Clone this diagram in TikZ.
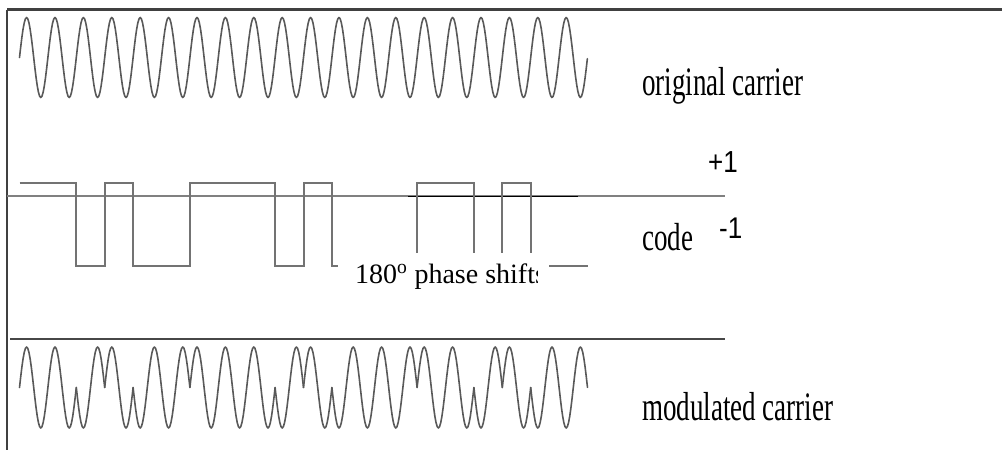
\documentclass[tikz,border=0pt]{standalone}
\usepackage{fontspec}
\setmainfont{Liberation Serif}
\newfontfamily\arialf{Liberation Sans}
\begin{document}
\begin{tikzpicture}[x=1pt,y=-1pt,
  frameline/.style={line width=2.3pt, draw=black!75},
  sepline/.style={line width=2pt, draw=black!72},
  wave/.style={line width=1.6pt, draw=black!65, line join=round, line cap=round},
  codeline/.style={line width=2pt, draw=black!55, line join=miter},
  zeroline/.style={line width=1.3pt, draw=black!50},
  lbl/.style={anchor=base west, inner sep=0pt, font=\fontsize{27}{30}\selectfont},
  lvl/.style={anchor=base west, inner sep=0pt, font=\arialf\fontsize{26}{30}\selectfont},
  note/.style={anchor=base west, inner sep=0pt, font=\fontsize{28}{32}\selectfont}]
\useasboundingbox (0,0) rectangle (1002,450);

% frame
\draw[frameline] (7,9.5) -- (1002,9.5);
\draw[frameline] (7,9.5) -- (7,450);

% original carrier
\draw[wave] plot[domain=0:20, samples=481, variable=\t] ({19.5+28.4*\t},{57.5-40*sin(360*\t)});

% code zero line
\draw[zeroline] (7,196) -- (725,196);
\draw[line width=1.3pt, draw=black] (408,196.5) -- (578,196.5);

% code waveform
\draw[codeline] (19.5,183) -- (76.3,183) -- (76.3,266) -- (104.7,266) -- (104.7,183)
  -- (133.1,183) -- (133.1,266) -- (189.9,266) -- (189.9,183) -- (275.1,183)
  -- (275.1,266) -- (303.5,266) -- (303.5,183) -- (331.9,183) -- (331.9,266)
  -- (417.1,266) -- (417.1,183) -- (473.9,183) -- (473.9,266) -- (502.3,266)
  -- (502.3,183) -- (530.7,183) -- (530.7,266) -- (587.5,266);
\fill[white] (338,253) rectangle (549,300);
\begin{scope}
  \clip (338,240) rectangle (537.5,305);
  \node[note] (shift) at (355,283) {180\textsuperscript{o} phase shifts};
\end{scope}

% separator
\draw[sepline] (10,339) -- (725,339);

% modulated carrier
\foreach \a/\b/\s in {0/2/1, 2/3/-1, 3/4/1, 4/6/-1, 6/9/1, 9/10/-1, 10/11/1, 11/14/-1, 14/16/1, 16/17/-1, 17/18/1, 18/20/-1}{
  \pgfmathtruncatemacro\ns{24*(\b-\a)+1}
  \draw[wave] plot[domain=\a:\b, samples=\ns, variable=\t] ({19.5+28.4*\t},{387.5-40.5*\s*sin(360*\t)});
}

% labels
\node[lbl] (orig) at (642,95) {\scalebox{1}[1.5]{original carrier}};
\node[lbl] (code) at (642,250) {\scalebox{1}[1.45]{code}};
\node[lbl] (mod) at (642,420) {\scalebox{1}[1.5]{modulated carrier}};
\node[lvl] (plus) at (708,172) {\scalebox{1}[1.17]{+1}};
\node[lvl] (minus) at (719,238) {\scalebox{1}[1.15]{-1}};
\end{tikzpicture}
\end{document}
